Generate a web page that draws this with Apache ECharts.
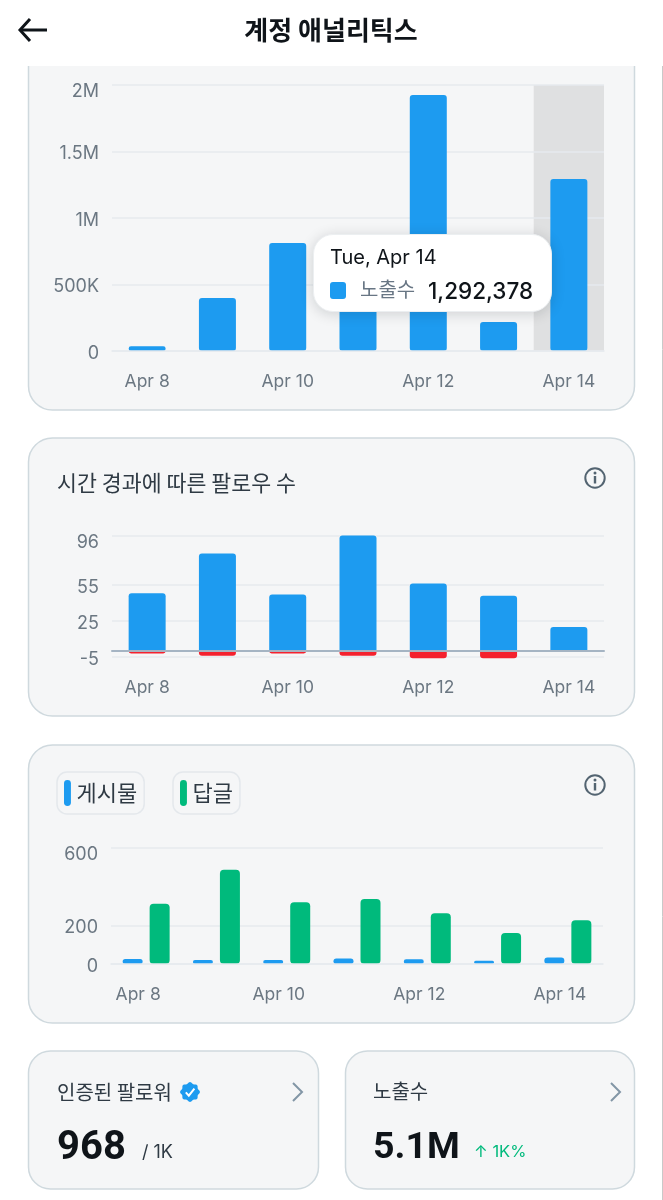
<!DOCTYPE html>
<html><head><meta charset="utf-8">
<style>html,body{margin:0;padding:0;background:#fff}#c{width:663px;height:1200px}</style>
<script src="https://cdn.jsdelivr.net/npm/echarts@6/dist/echarts.min.js"></script>
</head><body><div id="c"></div>
<script>
const days = ['Apr 8','Apr 9','Apr 10','Apr 11','Apr 12','Apr 13','Apr 14'];
const impressions = [35000,398000,812000,430000,1925000,218000,1292378];
const followsGained = [48,81,47,96,56,46,20];
const followsLost = [-2,-4,-2,-4,-6,-6,0];
const posts = [26,21,21,29,24,17,33];
const replies = [312,488,319,336,262,160,226];
const followTicks = [-5,25,55,96];
const activityTicks = [0,200,600];
const BLUE='#1d9bf0',RED='#f4212e',GREEN='#00ba7c',GRID='#e6eaee',LABEL='#6b7782',INK='#0f1419',TXT='#2f3a44',CARD='#f5f6f7',EDGE='#cfd9de';
const FONT='Inter, "Noto Sans CJK KR", sans-serif', KR='"Noto Sans CJK KR", sans-serif', NUM='Roboto, sans-serif';
const SHADOW={type:'shadow',z:1,shadowStyle:{color:'#dfe0e1',opacity:1}};

function fmtImp(v){return v>=1e6?(v/1e6)+'M':v>=1e3?(v/1e3)+'K':String(v);}
function xAxis(gi,extra,lineColor,lineW){return {type:'category',gridIndex:gi,data:days,z:10,
  axisTick:{show:false},axisLine:{show:true,lineStyle:{color:lineColor,width:lineW}},
  axisPointer:SHADOW,
  axisLabel:Object.assign({interval:1,color:LABEL,fontSize:17.5,fontFamily:FONT,margin:22,hideOverlap:false},extra||{})};}
function yAxis(gi,o){return Object.assign({type:'value',gridIndex:gi,z:2,axisLine:{show:false},axisTick:{show:false},
  splitLine:{show:true,lineStyle:{color:GRID,width:1.5}}},o);}
// Every tick label hangs just below its line; the top one hangs lower, as in the reference.
function lab(maxValue,fmt){return {color:LABEL,fontSize:18,fontFamily:FONT,margin:13,lineHeight:5,verticalAlign:'top',showMinLabel:true,showMaxLabel:true,
  formatter:function(v){const s=fmt?fmt(v):String(v);return v===maxValue?'{t|'+s+'}':s;},
  rich:{t:{color:LABEL,fontSize:18,fontFamily:FONT,lineHeight:14}}};}

function card(x,y,w,h,r){return {type:'rect',z:-5,shape:{x:x,y:y,width:w,height:h,r:r},style:{fill:CARD,stroke:EDGE,lineWidth:1.5}};}
function txt(t,x,y,size,color,weight,font,align){return {type:'text',z:20,x:x,y:y,style:{text:t,fill:color,fontSize:size,fontWeight:weight||400,fontFamily:font||KR,align:align||'left',verticalAlign:'middle'}};}
function info(cx,cy){return {type:'group',z:20,x:cx,y:cy,children:[
  {type:'circle',z:20,shape:{cx:0,cy:0,r:9.7},style:{fill:'none',stroke:'#536471',lineWidth:2}},
  {type:'rect',z:20,shape:{x:-1.2,y:-2,width:2.4,height:7.5},style:{fill:'#536471'}},
  {type:'circle',z:20,shape:{cx:0,cy:-5,r:1.5},style:{fill:'#536471'}}]};}
function chev(x,y){return {type:'polyline',z:20,shape:{points:[[x,y-9],[x+9,y],[x,y+9]]},style:{fill:'none',stroke:'#8296a6',lineWidth:2}};}
function badge(cx,cy){const pts=[];for(let i=0;i<48;i++){const a=i/48*Math.PI*2,r=9.2+0.8*Math.cos(8*a);pts.push([r*Math.cos(a),r*Math.sin(a)]);}
  return {type:'group',z:20,x:cx,y:cy,children:[
    {type:'polygon',z:20,shape:{points:pts},style:{fill:BLUE}},
    {type:'polyline',z:21,shape:{points:[[-4.2,0.4],[-1.2,3.6],[4.4,-3.4]]},style:{fill:'none',stroke:'#fff',lineWidth:2}}]};}

const graphic=[
  card(28.5,20,606,390,24),
  card(28.5,438,606,278,24),
  card(28.5,745,606,278,24),
  card(28.5,1051,290,138,22),
  card(345.5,1051,289,138,22),
  {type:'rect',z:-1,shape:{x:0,y:0,width:663,height:66},style:{fill:'#fff'}},
  {type:'line',z:30,shape:{x1:662.5,y1:66,x2:662.5,y2:1200},style:{stroke:'#c9c9c9',lineWidth:1}},
  {type:'polyline',z:20,shape:{points:[[30,19],[20,30],[30,41]]},style:{fill:'none',stroke:INK,lineWidth:3}},
  {type:'line',z:20,shape:{x1:21,y1:30,x2:47,y2:30},style:{stroke:INK,lineWidth:3}},
  txt('계정 애널리틱스',331,30,26,INK,700,KR,'center'),
  txt('시간 경과에 따른 팔로우 수',57,483,21.7,TXT,400),
  info(595,478),info(595,785),
  txt('인증된 팔로워',57,1092,20,TXT,400),
  badge(190,1092),
  chev(293,1092),chev(611,1092),
  txt('968',57,1149,40,INK,700,NUM),
  txt('/ 1K',142,1153,18,TXT,400,FONT),
  txt('노출수',373,1091,20,TXT,400),
  txt('5.1M',373,1149,37.5,INK,700,NUM),
  txt('↑ 1K%',474,1152,16.5,GREEN,400,FONT)
];

const chart=echarts.init(document.getElementById('c'),null,{renderer:'canvas'});
const barR=[3,3,3,3];
const NOEMPH={disabled:true};
const PILL='path://M0 4a4 4 0 0 1 8 0v22a4 4 0 0 1-8 0z';
const chip=(name,left)=>({show:true,data:[name],left:left,top:772,orient:'horizontal',icon:PILL,itemWidth:8,itemHeight:26,
  itemGap:0,padding:[8,7,8,7],borderColor:'#e4e8ec',borderWidth:1.5,borderRadius:10,
  textStyle:{fontSize:22,color:TXT,fontFamily:KR,padding:[0,0,0,0]}});
const followAxisLabel=Object.assign(lab(96),{customValues:followTicks});
const activityAxisLabel=Object.assign(lab(600),{customValues:activityTicks});
chart.setOption({
  animation:false,
  graphic:graphic,
  grid:[
    {left:112,width:492,top:85,height:266},
    {left:112,width:492,top:535.5,height:121.5},
    {left:111,width:492,top:848,height:116}
  ],
  legend:[chip('게시물',57),chip('답글',173)],
  tooltip:{trigger:'axis',alwaysShowContent:true,transitionDuration:0,padding:0,borderWidth:0,backgroundColor:'transparent',
    position:[313,234],axisPointer:SHADOW,
    extraCssText:'box-shadow:none;',
    formatter:function(ps){const p=ps[0];
      return '<div style="box-sizing:border-box;width:239px;height:78px;background:#fff;border-radius:20px;border:1px solid #eceff1;box-shadow:0 2px 14px rgba(15,20,25,.16);padding:6px 16px;font-family:Inter,\'Noto Sans CJK KR\',sans-serif;">'
      +'<div style="font-size:20px;line-height:32px;color:#0f1419;">Tue, Apr 14</div>'
      +'<div style="display:flex;align-items:center;height:34px;"><span style="display:inline-block;width:16px;height:17px;border-radius:3px;background:'+BLUE+';margin-right:14px;"></span>'
      +'<span style="font-size:20px;color:#687684;width:68px;">'+p.seriesName+'</span>'
      +'<span style="font-size:22.5px;font-weight:500;color:#0f1419;">'+p.value.toLocaleString('en-US')+'</span></div></div>';}},
  xAxis:[
    xAxis(0,null,GRID,1.5),
    xAxis(1,null,'#a5b4c3',2),
    xAxis(2,{padding:[0,16,0,0]},GRID,1.5)
  ],
  yAxis:[
    yAxis(0,{min:0,max:2000000,interval:500000,axisLabel:lab(2000000,fmtImp)}),
    yAxis(1,{min:-5,max:96,axisTick:{show:false,customValues:followTicks},axisLabel:followAxisLabel}),
    yAxis(2,{min:0,max:600,axisTick:{show:false,customValues:activityTicks},axisLabel:activityAxisLabel})
  ],
  series:[
    {name:'노출수',type:'bar',z:3,emphasis:NOEMPH,xAxisIndex:0,yAxisIndex:0,data:impressions,barWidth:37,itemStyle:{color:BLUE,borderRadius:barR}},
    {name:'팔로우',type:'bar',z:3,emphasis:NOEMPH,xAxisIndex:1,yAxisIndex:1,stack:'f',clip:false,data:followsGained,barWidth:37,itemStyle:{color:BLUE,borderRadius:[3,3,0,0]}},
    {name:'언팔로우',type:'bar',z:3,emphasis:NOEMPH,xAxisIndex:1,yAxisIndex:1,stack:'f',clip:false,data:followsLost,barWidth:37,itemStyle:{color:RED,borderRadius:[0,0,3,3]}},
    {name:'게시물',type:'bar',z:3,emphasis:NOEMPH,xAxisIndex:2,yAxisIndex:2,data:posts,barWidth:20,barGap:'35%',itemStyle:{color:BLUE,borderRadius:[4,4,4,4]}},
    {name:'답글',type:'bar',z:3,emphasis:NOEMPH,xAxisIndex:2,yAxisIndex:2,data:replies,barWidth:20,barGap:'35%',itemStyle:{color:GREEN,borderRadius:[4,4,4,4]}}
  ]
});
chart.dispatchAction({type:'showTip',seriesIndex:0,dataIndex:6});
</script></body></html>
